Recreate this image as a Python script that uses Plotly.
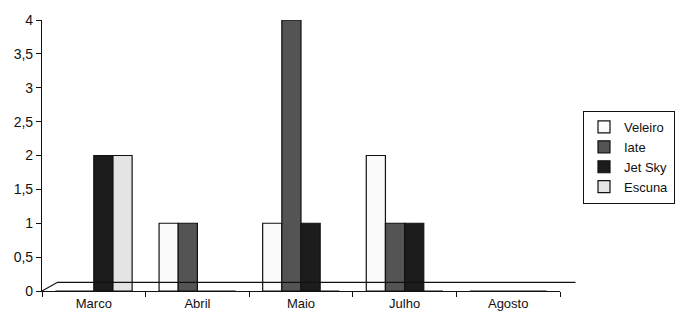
import plotly.graph_objects as go

categories = ["Marco", "Abril", "Maio", "Julho", "Agosto"]
series_names = ["Veleiro", "Iate", "Jet Sky", "Escuna"]
veleiro = [0, 1, 1, 2, 0]
iate = [0, 1, 4, 1, 0]
jet_sky = [2, 0, 1, 1, 0]
escuna = [2, 0, 0, 0, 0]
y_ticks = [0, 0.5, 1, 1.5, 2, 2.5, 3, 3.5, 4]

colors = ["#fbfbfb", "#545454", "#1c1c1c", "#e4e4e4"]
values = [veleiro, iate, jet_sky, escuna]

fig = go.Figure()
for name, vals, col in zip(series_names, values, colors):
    fig.add_trace(go.Bar(
        x=categories, y=vals, name=name, legendgroup=name,
        marker=dict(color=col, line=dict(color="#111111", width=1.2)),
    ))

fig.update_layout(
    width=700, height=323,
    barmode="group", bargap=0.26, bargroupgap=0.0,
    separators=", ",
    paper_bgcolor="white", plot_bgcolor="white",
    margin=dict(l=42, r=140, t=19, b=26),
    font=dict(family="Liberation Sans, Arial, sans-serif", color="#111111", size=13),
    legend=dict(
        x=1.044, y=0.665, xanchor="left", yanchor="top",
        bordercolor="#111111", borderwidth=1.2,
        font=dict(size=13), tracegroupgap=8, itemwidth=30,
        traceorder="normal",
    ),
    showlegend=True,
)
fig.update_xaxes(
    showline=True, linecolor="#111111", linewidth=1.2,
    ticks="outside", tickson="boundaries", ticklen=5, tickcolor="#111111",
    tickfont=dict(size=13), showgrid=False,
)
fig.update_yaxes(
    range=[0, 4], tickvals=y_ticks,
    showline=True, linecolor="#111111", linewidth=1.2,
    ticks="outside", ticklen=5, tickcolor="#111111",
    tickfont=dict(size=14), showgrid=False, zeroline=False,
)
# 3D floor outline
fig.add_shape(type="path", xref="paper", yref="paper",
              path="M 0 0 L 0.03 0.032 L 1.03 0.032",
              line=dict(color="#111111", width=1.2))

fig.write_html("out.html")
